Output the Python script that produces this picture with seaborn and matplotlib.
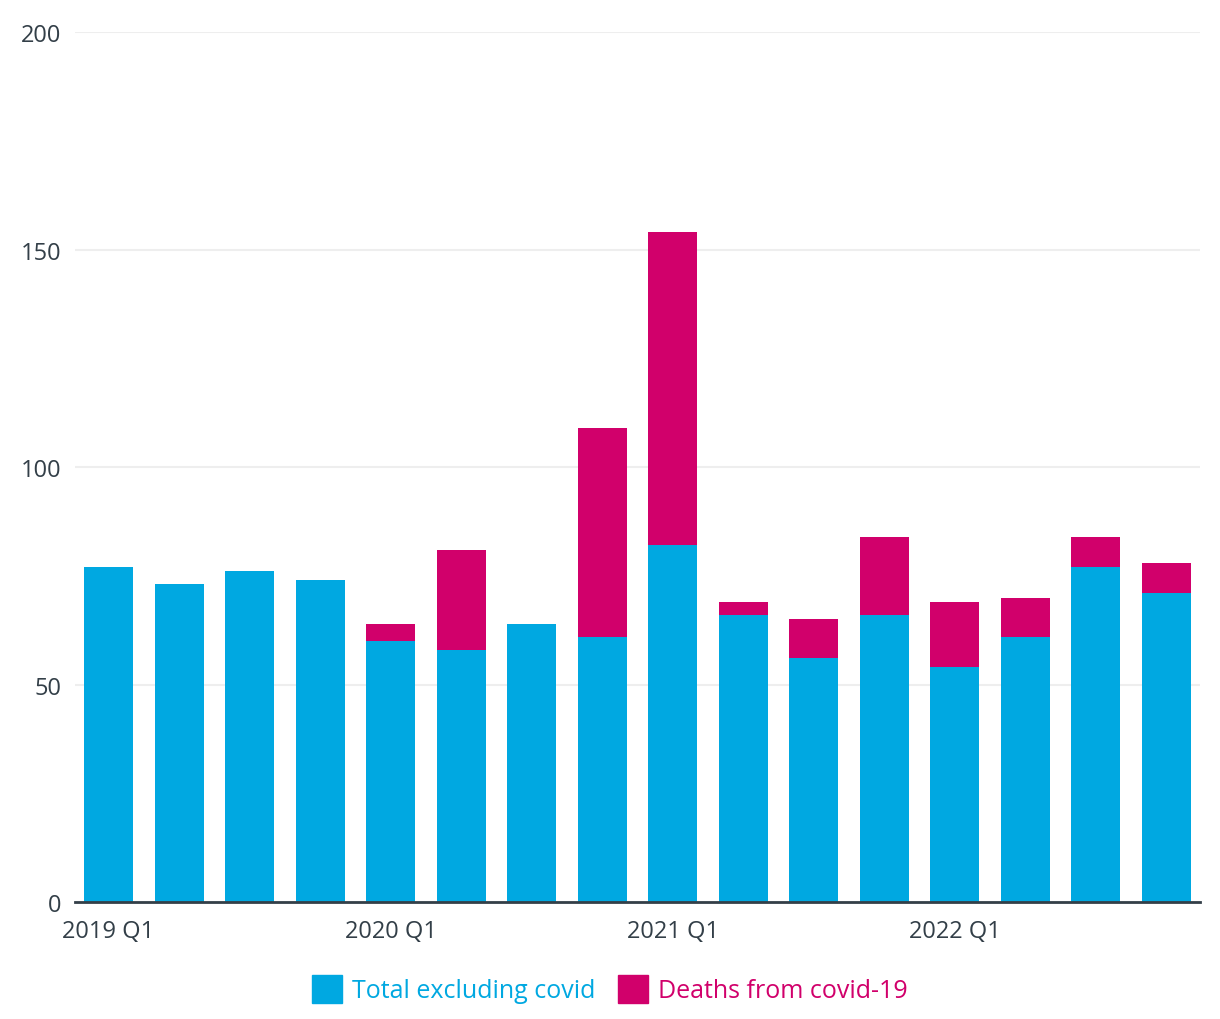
import pandas as pd
import matplotlib.pyplot as plt
import seaborn as sns
from matplotlib.patches import Patch

# quarterly values
quarters = ['2019 Q1', '2019 Q2', '2019 Q3', '2019 Q4',
            '2020 Q1', '2020 Q2', '2020 Q3', '2020 Q4',
            '2021 Q1', '2021 Q2', '2021 Q3', '2021 Q4',
            '2022 Q1', '2022 Q2', '2022 Q3', '2022 Q4']
excl_covid = [77, 73, 76, 74, 60, 58, 64, 61, 82, 66, 56, 66, 54, 61, 77, 71]
covid = [0, 0, 0, 0, 4, 23, 0, 48, 72, 3, 9, 18, 15, 9, 7, 7]
tick_quarters = ['2019 Q1', '2020 Q1', '2021 Q1', '2022 Q1']
y_ticks = [0, 50, 100, 150, 200]

blue = '#00A8E1'
pink = '#D1006B'
text_col = '#333F48'

df = pd.DataFrame({'quarter': quarters, 'excl': excl_covid, 'covid': covid})
df['total'] = df['excl'] + df['covid']

sns.set_style('white')
plt.rcParams['font.family'] = ['Open Sans', 'DejaVu Sans']

fig = plt.figure(figsize=(12.2, 10.2), dpi=100)
ax = fig.add_axes([0.0615, 0.1147, 0.9221, 0.8529])

# totals drawn first in pink, then the non-covid part on top in blue
sns.barplot(data=df, x='quarter', y='total', color=pink, saturation=1,
            width=0.695, linewidth=0, ax=ax, zorder=3)
sns.barplot(data=df, x='quarter', y='excl', color=blue, saturation=1,
            width=0.695, linewidth=0, ax=ax, zorder=4)

ax.set_xlim(-0.475, 15.475)
ax.set_ylim(0, 200)
ax.set_yticks(y_ticks)
ax.set_yticklabels([str(v) for v in y_ticks], color=text_col, fontsize=17)
ax.set_xticks([quarters.index(q) for q in tick_quarters])
ax.set_xticklabels(tick_quarters, color=text_col, fontsize=17)
ax.tick_params(axis='y', length=0, pad=10)
ax.tick_params(axis='x', length=0, pad=12)
ax.set_xlabel('')
ax.set_ylabel('')
ax.grid(axis='y', color='#EEEEEE', linewidth=1.5, zorder=0)
for s in ['top', 'right', 'left']:
    ax.spines[s].set_visible(False)
ax.spines['bottom'].set_color(text_col)
ax.spines['bottom'].set_linewidth(2)
ax.spines['bottom'].set_zorder(5)

handles = [Patch(color=blue, label='Total excluding covid'),
           Patch(color=pink, label='Deaths from covid-19')]
fig.legend(handles=handles, loc='center', bbox_to_anchor=(0.5, 0.029),
           ncol=2, frameon=False, fontsize=18, labelcolor=[blue, pink],
           handlelength=1.2, handleheight=1.3, handletextpad=0.4,
           columnspacing=0.9)

fig.savefig('out.png', dpi=100)
